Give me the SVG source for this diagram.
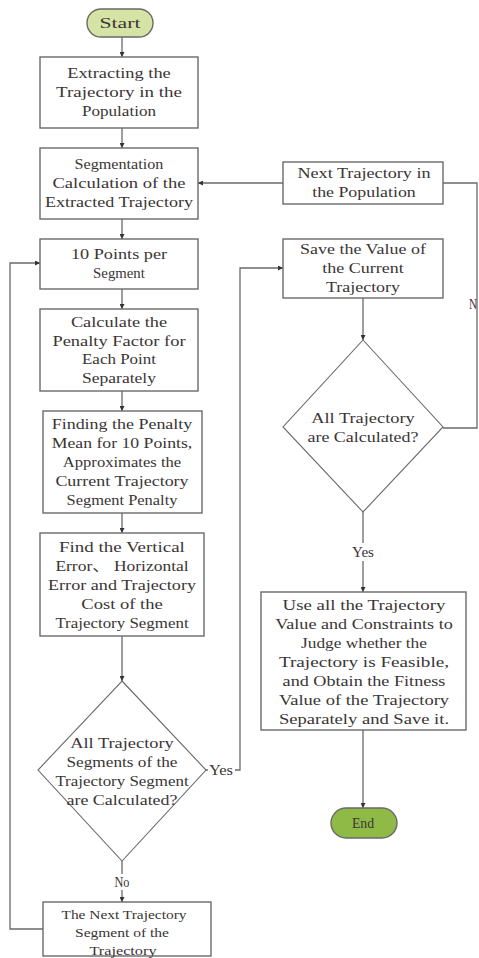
<svg xmlns="http://www.w3.org/2000/svg" width="479" height="958" viewBox="0 0 479 958">
<defs>
<marker id="ah" viewBox="0 0 8 8" refX="8" refY="4" markerWidth="5" markerHeight="5" orient="auto" markerUnits="userSpaceOnUse">
<path d="M0,0 L8,4 L0,8 z" fill="#333"/>
</marker>
<style>
.box{fill:#fff;stroke:#6a6a6a;stroke-width:1.4}
.dia{fill:#fff;stroke:#6a6a6a;stroke-width:1.1}
.ln{fill:none;stroke:#6a6a6a;stroke-width:1.3}
.ar{fill:none;stroke:#6a6a6a;stroke-width:1.3;marker-end:url(#ah)}
text{font-family:"Liberation Serif","Noto Sans CJK SC",serif;font-size:15px;fill:#3a3535;text-anchor:middle}
.sm{font-size:13.5px}
</style>
</defs>
<rect width="479" height="958" fill="#fff"/>
<g id="connectors">
<path class="ar" d="M122,37 V57"/>
<path class="ar" d="M122,128 V148"/>
<path class="ar" d="M122,219 V239"/>
<path class="ar" d="M122,289 V309"/>
<path class="ar" d="M122,391 V411"/>
<path class="ar" d="M122,513 V533"/>
<path class="ar" d="M122,636 V681"/>
<path class="ln" d="M122,861 V874"/>
<path class="ar" d="M122,890 V902"/>
<path class="ar" d="M43,929 H10 V263 H40"/>
<path class="ln" d="M206,770 H208"/>
<path class="ar" d="M235,770 H240 V268 H283"/>
<path class="ar" d="M283,183 H198"/>
<path class="ar" d="M363,298 V340"/>
<path class="ln" d="M443,428 H477 V183 H443"/>
<path class="ln" d="M363,512 V543"/>
<path class="ar" d="M363,561 V592"/>
<path class="ar" d="M363,730 V808"/>
</g>
<g id="start">
<rect x="87" y="9" width="66" height="28" rx="14" fill="#d5e3a5" stroke="#6a6a6a" stroke-width="1.4"/>
<text x="120" y="28" font-size="17" textLength="41" lengthAdjust="spacingAndGlyphs">Start</text>
</g>
<g id="extract">
<rect class="box" x="40" y="57" width="158" height="71"/>
<text x="119" y="78" textLength="103.6" lengthAdjust="spacingAndGlyphs">Extracting the</text>
<text x="119" y="97" textLength="125.8" lengthAdjust="spacingAndGlyphs">Trajectory in the</text>
<text x="119" y="116" textLength="74" lengthAdjust="spacingAndGlyphs">Population</text>
</g>
<g id="segmentation">
<rect class="box" x="40" y="148" width="158" height="71"/>
<text x="119" y="169" textLength="88.8" lengthAdjust="spacingAndGlyphs">Segmentation</text>
<text x="119" y="188" textLength="133.2" lengthAdjust="spacingAndGlyphs">Calculation of the</text>
<text x="119" y="207" textLength="148" lengthAdjust="spacingAndGlyphs">Extracted Trajectory</text>
</g>
<g id="points">
<rect class="box" x="40" y="239" width="158" height="50"/>
<text x="119" y="259" textLength="96.2" lengthAdjust="spacingAndGlyphs">10 Points per</text>
<text x="119" y="278" textLength="51.8" lengthAdjust="spacingAndGlyphs">Segment</text>
</g>
<g id="penalty">
<rect class="box" x="40" y="309" width="158" height="82"/>
<text x="119" y="327" textLength="96.2" lengthAdjust="spacingAndGlyphs">Calculate the</text>
<text x="119" y="346" textLength="133.2" lengthAdjust="spacingAndGlyphs">Penalty Factor for</text>
<text x="119" y="364" textLength="74" lengthAdjust="spacingAndGlyphs">Each Point</text>
<text x="119" y="383" textLength="74" lengthAdjust="spacingAndGlyphs">Separately</text>
</g>
<g id="mean">
<rect class="box" x="43" y="411" width="159" height="102"/>
<text x="122" y="429" textLength="140.6" lengthAdjust="spacingAndGlyphs">Finding the Penalty</text>
<text x="122" y="448" textLength="140.6" lengthAdjust="spacingAndGlyphs">Mean for 10 Points,</text>
<text x="122" y="467" textLength="118.4" lengthAdjust="spacingAndGlyphs">Approximates the</text>
<text x="122" y="486" textLength="133.2" lengthAdjust="spacingAndGlyphs">Current Trajectory</text>
<text x="122" y="505" textLength="111" lengthAdjust="spacingAndGlyphs">Segment Penalty</text>
</g>
<g id="errors">
<rect class="box" x="40" y="533" width="164" height="103"/>
<text x="122" y="552" textLength="125.8" lengthAdjust="spacingAndGlyphs">Find the Vertical</text>
<text x="122" y="571" textLength="133.2" lengthAdjust="spacingAndGlyphs">Error、 Horizontal</text>
<text x="122" y="590" textLength="148" lengthAdjust="spacingAndGlyphs">Error and Trajectory</text>
<text x="122" y="609" textLength="81.4" lengthAdjust="spacingAndGlyphs">Cost of the</text>
<text x="122" y="628" textLength="133.2" lengthAdjust="spacingAndGlyphs">Trajectory Segment</text>
</g>
<g id="segments-done">
<polygon class="dia" points="122,681 206,770 122,861 38,770"/>
<text x="122" y="748" textLength="103.6" lengthAdjust="spacingAndGlyphs">All Trajectory</text>
<text x="122" y="767" textLength="111" lengthAdjust="spacingAndGlyphs">Segments of the</text>
<text x="122" y="786" textLength="133.2" lengthAdjust="spacingAndGlyphs">Trajectory Segment</text>
<text x="122" y="805" textLength="111" lengthAdjust="spacingAndGlyphs">are Calculated?</text>
</g>
<g id="next-segment">
<rect class="box" x="43" y="902" width="168" height="54"/>
<text class="sm" x="124" y="919" textLength="125" lengthAdjust="spacingAndGlyphs">The Next Trajectory</text>
<text class="sm" x="122" y="937" textLength="94" lengthAdjust="spacingAndGlyphs">Segment of the</text>
<text class="sm" x="123" y="955" textLength="67" lengthAdjust="spacingAndGlyphs">Trajectory</text>
</g>
<g id="next-trajectory">
<rect class="box" x="283" y="162" width="160" height="42"/>
<text x="364" y="178" textLength="133.2" lengthAdjust="spacingAndGlyphs">Next Trajectory in</text>
<text x="364" y="197" textLength="103.6" lengthAdjust="spacingAndGlyphs">the Population</text>
</g>
<g id="save">
<rect class="box" x="283" y="239" width="160" height="59"/>
<text x="363" y="254" textLength="125.8" lengthAdjust="spacingAndGlyphs">Save the Value of</text>
<text x="363" y="273" textLength="81.4" lengthAdjust="spacingAndGlyphs">the Current</text>
<text x="363" y="292" textLength="74" lengthAdjust="spacingAndGlyphs">Trajectory</text>
</g>
<g id="all-done">
<polygon class="dia" points="363,340 443,427 363,512 283,427"/>
<text x="363" y="423" textLength="103.6" lengthAdjust="spacingAndGlyphs">All Trajectory</text>
<text x="363" y="442" textLength="111" lengthAdjust="spacingAndGlyphs">are Calculated?</text>
</g>
<g id="fitness">
<rect class="box" x="261" y="592" width="205" height="138"/>
<text x="364" y="610" textLength="162.8" lengthAdjust="spacingAndGlyphs">Use all the Trajectory</text>
<text x="364" y="629" textLength="177.6" lengthAdjust="spacingAndGlyphs">Value and Constraints to</text>
<text x="364" y="648" textLength="125.8" lengthAdjust="spacingAndGlyphs">Judge whether the</text>
<text x="364" y="667" textLength="170.2" lengthAdjust="spacingAndGlyphs">Trajectory is Feasible,</text>
<text x="364" y="686" textLength="162.8" lengthAdjust="spacingAndGlyphs">and Obtain the Fitness</text>
<text x="364" y="705" textLength="170.2" lengthAdjust="spacingAndGlyphs">Value of the Trajectory</text>
<text x="364" y="724" textLength="170.2" lengthAdjust="spacingAndGlyphs">Separately and Save it.</text>
</g>
<g id="end">
<rect x="331" y="808" width="66" height="30" rx="15" fill="#8fba45" stroke="#6a6a6a" stroke-width="1.4"/>
<text x="363" y="828" textLength="22" lengthAdjust="spacingAndGlyphs">End</text>
</g>
<g id="labels">
<text x="221" y="775" textLength="24" lengthAdjust="spacingAndGlyphs">Yes</text>
<text x="122" y="887" textLength="15" lengthAdjust="spacingAndGlyphs">No</text>
<text x="363" y="557" textLength="22" lengthAdjust="spacingAndGlyphs">Yes</text>
<text x="473" y="309" textLength="8" lengthAdjust="spacingAndGlyphs">N</text>
</g>
</svg>
